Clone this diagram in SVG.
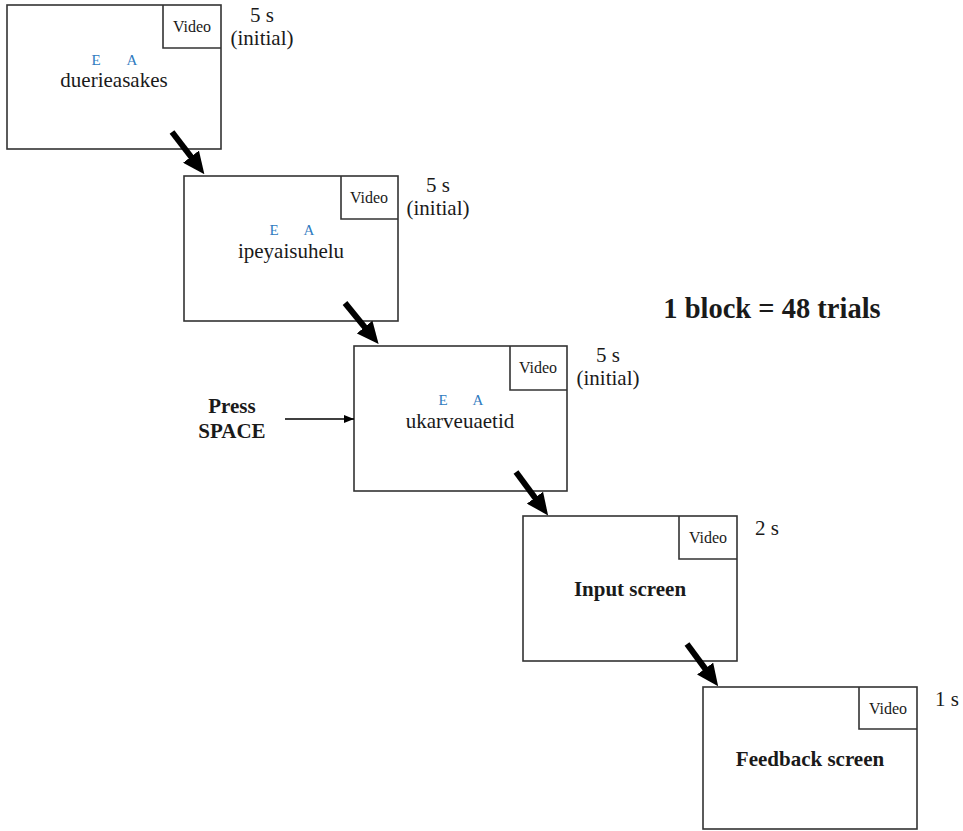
<svg xmlns="http://www.w3.org/2000/svg" width="963" height="831" viewBox="0 0 963 831">
<style>
.box{fill:#fff;stroke:#333;stroke-width:1.6}
.vid{fill:none;stroke:#333;stroke-width:1.6}
.t{font-family:"Liberation Serif","Times New Roman",serif;fill:#1a1a1a}
.vt{font-size:16px;text-anchor:middle}
.dur{font-size:21px;text-anchor:middle}
.word{font-size:21px;text-anchor:middle}
.ea{font-size:15px;text-anchor:middle;fill:#2f7bbf}
.bold{font-weight:bold;text-anchor:middle}
.thick{stroke:#000;stroke-width:6;fill:none}
.thin{stroke:#000;stroke-width:1.4;fill:none}
</style>
<defs>
<marker id="big" viewBox="0 0 22 20" markerWidth="22" markerHeight="20" markerUnits="userSpaceOnUse" refX="1" refY="10" orient="auto"><path d="M0,0 L22,10 L0,20 z" fill="#000"/></marker>
<marker id="small" viewBox="0 0 10 8" markerWidth="10" markerHeight="8" markerUnits="userSpaceOnUse" refX="10" refY="4" orient="auto"><path d="M0,0 L10,4 L0,8 z" fill="#000"/></marker>
</defs>
<g id="screen1">
<rect class="box" x="7" y="5" width="214" height="144"/>
<path class="vid" d="M163,5 V48 H221"/>
<text class="t vt" x="192" y="32">Video</text>
<text class="t ea" x="96" y="65">E</text>
<text class="t ea" x="132" y="65">A</text>
<text class="t word" x="114" y="87">duerieasakes</text>
<text class="t dur" x="262" y="22">5 s</text>
<text class="t dur" x="262" y="45">(initial)</text>
</g>
<g id="screen2">
<rect class="box" x="184" y="176" width="214" height="145"/>
<path class="vid" d="M341,176 V219 H398"/>
<text class="t vt" x="369" y="203">Video</text>
<text class="t ea" x="274" y="235">E</text>
<text class="t ea" x="309" y="235">A</text>
<text class="t word" x="291" y="258">ipeyaisuhelu</text>
<text class="t dur" x="438" y="192">5 s</text>
<text class="t dur" x="438" y="215">(initial)</text>
</g>
<g id="screen3">
<rect class="box" x="354" y="346" width="213" height="145"/>
<path class="vid" d="M510,346 V390 H567"/>
<text class="t vt" x="538" y="373">Video</text>
<text class="t ea" x="443" y="405">E</text>
<text class="t ea" x="478" y="405">A</text>
<text class="t word" x="460" y="428">ukarveuaetid</text>
<text class="t dur" x="608" y="362">5 s</text>
<text class="t dur" x="608" y="385">(initial)</text>
</g>
<g id="screen4">
<rect class="box" x="523" y="516" width="214" height="145"/>
<path class="vid" d="M679,516 V559 H737"/>
<text class="t vt" x="708" y="543">Video</text>
<text class="t bold" x="630" y="596" font-size="21">Input screen</text>
<text class="t dur" x="767" y="535">2 s</text>
</g>
<g id="screen5">
<rect class="box" x="703" y="687" width="214" height="142"/>
<path class="vid" d="M859,687 V729 H917"/>
<text class="t vt" x="888" y="714">Video</text>
<text class="t bold" x="810" y="766" font-size="21">Feedback screen</text>
<text class="t dur" x="947" y="706">1 s</text>
</g>
<g id="press">
<text class="t bold" x="232" y="413" font-size="21">Press</text>
<text class="t bold" x="232" y="438" font-size="21">SPACE</text>
</g>
<g id="block">
<text class="t bold" x="772" y="318" font-size="28.5">1 block = 48 trials</text>
</g>
<g id="connectors">
<line class="thick" x1="172" y1="132" x2="191.6" y2="157.5" marker-end="url(#big)"/>
<line class="thick" x1="345" y1="303" x2="365.3" y2="327.8" marker-end="url(#big)"/>
<line class="thick" x1="516" y1="472" x2="535.6" y2="498.5" marker-end="url(#big)"/>
<line class="thick" x1="687" y1="644" x2="705.7" y2="669.4" marker-end="url(#big)"/>
<line class="thin" x1="285" y1="419" x2="354" y2="419" marker-end="url(#small)"/>
</g>
</svg>
